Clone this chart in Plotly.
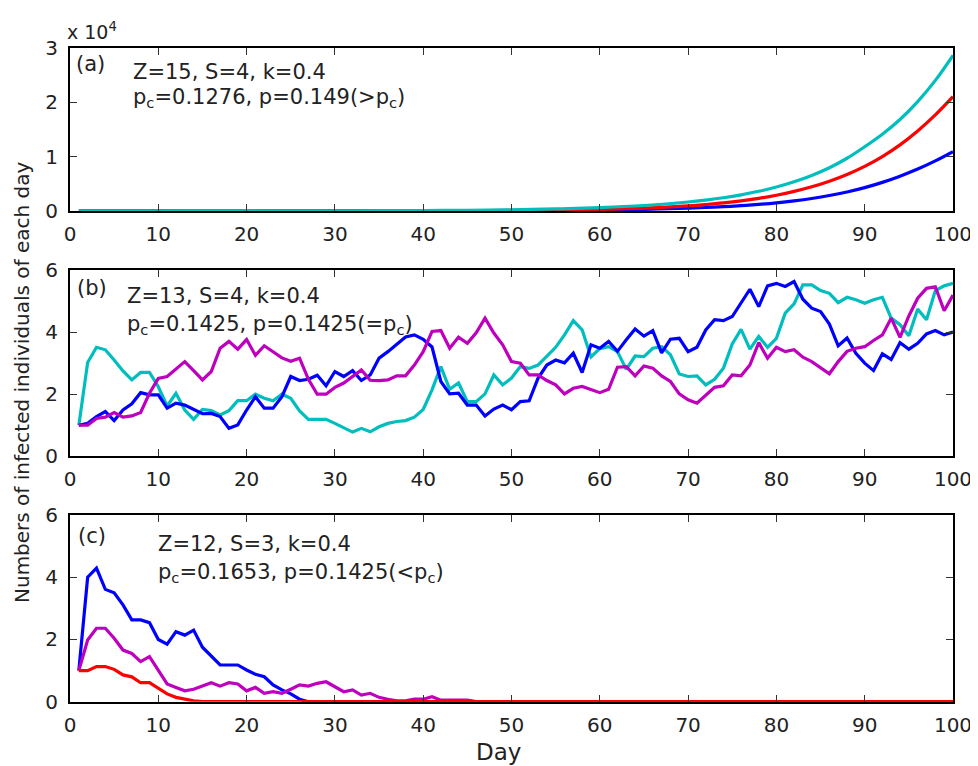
import plotly.graph_objects as go

# ---------------- data ----------------
days = list(range(1, 101))

# Panel (a): exponential growth
days_a = [1, 5, 10, 15, 20, 25, 30, 35, 40, 45, 50, 55, 60, 65,
          70, 72, 74, 76, 78, 80, 82, 84, 86, 88, 90, 92, 94, 96, 98, 100]
a_blue = [1, 1, 1.5, 2, 3, 5, 7, 12, 21, 35, 60, 100, 175, 300,
          520, 640, 790, 980, 1210, 1500, 1860, 2300, 2840, 3500, 4300, 5260, 6400, 7700, 9200, 10900]
a_red = [1, 1.5, 2, 3, 4, 7, 12, 21, 36, 60, 105, 180, 310, 540,
         950, 1190, 1480, 1850, 2320, 2900, 3600, 4450, 5480, 6720, 8200, 10000, 12150, 14700, 17650, 21000]
a_cyan = [1, 2, 4, 7, 12, 20, 32, 53, 86, 140, 230, 380, 620, 1010,
          1650, 2010, 2440, 2970, 3620, 4400, 5360, 6530, 7950, 9690, 11800, 14100, 16800, 20100, 24000, 28600]

# Panel (b)
b_blue = [1.0, 1.06, 1.28, 1.44, 1.15, 1.49, 1.69, 2.05, 1.98, 1.98,
          1.55, 1.71, 1.65, 1.5, 1.37, 1.38, 1.28, 0.9, 1.01, 1.49,
          1.92, 1.55, 1.55, 1.92, 2.57, 2.44, 2.48, 2.61, 2.27, 2.73,
          2.57, 2.76, 2.44, 2.62, 3.16, 3.37, 3.59, 3.84, 3.91, 3.77,
          3.52, 2.41, 2.01, 2.03, 1.65, 1.65, 1.3, 1.52, 1.65, 1.5,
          1.76, 1.79, 2.51, 2.94, 3.1, 3.01, 3.32, 2.7, 3.59, 3.48,
          3.7, 3.38, 3.75, 4.1, 3.87, 4.05, 3.33, 3.77, 3.8, 3.37,
          3.51, 4.07, 4.4, 4.37, 4.5, 4.95, 5.38, 4.82, 5.49, 5.57,
          5.47, 5.63, 5.06, 4.77, 4.66, 4.26, 3.56, 3.81, 3.32, 3.0,
          2.76, 3.3, 3.12, 3.66, 3.45, 3.64, 3.94, 4.05, 3.91, 4.0]
b_magenta = [1.0, 1.0, 1.22, 1.26, 1.41, 1.26, 1.3, 1.41, 2.03, 2.51,
             2.57, 2.8, 3.05, 2.76, 2.46, 2.73, 3.48, 3.7, 3.45, 3.76,
             3.25, 3.56, 3.37, 3.17, 3.06, 3.16, 2.48, 2.0, 2.0, 2.22,
             2.36, 2.58, 2.78, 2.45, 2.44, 2.46, 2.59, 2.59, 2.94, 3.37,
             4.02, 4.05, 3.48, 3.84, 3.64, 3.98, 4.45, 3.97, 3.59, 3.05,
             3.0, 2.62, 2.62, 2.44, 2.3, 2.01, 2.19, 2.25, 2.14, 2.05,
             2.16, 2.87, 2.89, 2.59, 2.91, 2.84, 2.59, 2.41, 2.01, 1.82,
             1.71, 1.98, 2.22, 2.27, 2.62, 2.59, 2.94, 3.66, 3.16, 3.51,
             3.37, 3.43, 3.19, 3.05, 2.84, 2.66, 3.05, 3.38, 3.48, 3.53,
             3.73, 3.91, 4.45, 3.83, 4.52, 5.09, 5.41, 5.46, 4.69, 5.19]
b_cyan = [1.0, 3.02, 3.51, 3.43, 3.1, 2.75, 2.46, 2.7, 2.7, 2.24,
          1.62, 2.03, 1.49, 1.19, 1.51, 1.47, 1.33, 1.47, 1.79, 1.79,
          2.0, 1.87, 1.79, 2.0, 1.87, 1.46, 1.19, 1.19, 1.19, 1.06,
          0.92, 0.78, 0.9, 0.79, 0.95, 1.06, 1.12, 1.15, 1.26, 1.51,
          2.14, 2.89, 2.16, 2.36, 1.76, 1.76, 2.01, 2.62, 2.3, 2.52,
          2.89, 2.83, 2.94, 3.23, 3.51, 3.91, 4.37, 4.07, 3.2, 3.47,
          3.53, 3.37, 2.8, 3.23, 3.21, 3.48, 3.53, 3.27, 2.65, 2.57,
          2.59, 2.3, 2.48, 2.84, 3.62, 4.09, 3.45, 3.86, 3.51, 3.8,
          4.61, 4.91, 5.52, 5.52, 5.34, 5.25, 4.95, 5.12, 5.04, 4.93,
          5.04, 5.12, 4.45, 4.24, 3.88, 4.74, 4.4, 5.34, 5.49, 5.57]

# Panel (c)
c_blue = [1.0, 4.0, 4.29, 3.61, 3.5, 3.11, 2.63, 2.63, 2.54, 2.0,
          1.85, 2.25, 2.14, 2.3, 1.75, 1.47, 1.18, 1.18, 1.18, 1.02,
          0.88, 0.8, 0.54, 0.38, 0.25, 0.08, 0, 0, 0, 0,
          0, 0, 0, 0, 0, 0, 0, 0, 0, 0,
          0, 0, 0, 0, 0, 0, 0, 0, 0, 0,
          0, 0, 0, 0, 0, 0, 0, 0, 0, 0,
          0, 0, 0, 0, 0, 0, 0, 0, 0, 0,
          0, 0, 0, 0, 0, 0, 0, 0, 0, 0,
          0, 0, 0, 0, 0, 0, 0, 0, 0, 0,
          0, 0, 0, 0, 0, 0, 0, 0, 0, 0]
c_magenta = [1.0, 1.98, 2.36, 2.36, 2.04, 1.66, 1.55, 1.29, 1.45, 1.02,
             0.57, 0.46, 0.35, 0.4, 0.5, 0.61, 0.5, 0.61, 0.57, 0.35,
             0.46, 0.27, 0.32, 0.27, 0.4, 0.54, 0.5, 0.59, 0.64, 0.48,
             0.32, 0.38, 0.21, 0.27, 0.14, 0.08, 0.03, 0.03, 0.08, 0.08,
             0.16, 0.05, 0.05, 0.05, 0.05, 0, 0, 0, 0, 0,
             0, 0, 0, 0, 0, 0, 0, 0, 0, 0,
             0, 0, 0, 0, 0, 0, 0, 0, 0, 0,
             0, 0, 0, 0, 0, 0, 0, 0, 0, 0,
             0, 0, 0, 0, 0, 0, 0, 0, 0, 0,
             0, 0, 0, 0, 0, 0, 0, 0, 0, 0]
c_red = [1.0, 1.0, 1.13, 1.13, 1.04, 0.86, 0.8, 0.61, 0.61, 0.43,
         0.25, 0.14, 0.08, 0.03, 0, 0, 0, 0, 0, 0,
         0, 0, 0, 0, 0, 0, 0, 0, 0, 0,
         0, 0, 0, 0, 0, 0, 0, 0, 0, 0,
         0, 0, 0, 0, 0, 0, 0, 0, 0, 0,
         0, 0, 0, 0, 0, 0, 0, 0, 0, 0,
         0, 0, 0, 0, 0, 0, 0, 0, 0, 0,
         0, 0, 0, 0, 0, 0, 0, 0, 0, 0,
         0, 0, 0, 0, 0, 0, 0, 0, 0, 0,
         0, 0, 0, 0, 0, 0, 0, 0, 0, 0]

x_ticks = [0, 10, 20, 30, 40, 50, 60, 70, 80, 90, 100]
a_yticks = [0, 10000, 20000, 30000]
a_yticklabels = ["0", "1", "2", "3"]
bc_yticks = [0, 2, 4, 6]

# ---------------- layout helpers ----------------
OFF = 8                      # page body margin of the html file
W, H = 978 - OFF, 766 - OFF  # figure size so the page fits the window
X0, X1 = 70, 953             # page x of day 0 / day 100
L, R, T, B = X0 - OFF, (OFF + W) - X1, 0, 0
FONT = "DejaVu Sans, Verdana, sans-serif"
TXT = "#222222"

BLUE = "rgb(0,0,255)"
RED = "rgb(255,0,0)"
CYAN = "rgb(0,190,190)"
MAGENTA = "rgb(190,0,190)"


def px(x):
    """page x -> paper fraction"""
    return (x - OFF - L) / (W - L - R)


def py(y):
    """page y -> paper fraction"""
    return 1 - (y - OFF) / H


fig = go.Figure()
LW = 3.2

# panel (a)
fig.add_trace(go.Scatter(x=days_a, y=a_blue, mode="lines", line=dict(color=BLUE, width=LW, shape="spline"), xaxis="x", yaxis="y"))
fig.add_trace(go.Scatter(x=days_a, y=a_red, mode="lines", line=dict(color=RED, width=LW, shape="spline"), xaxis="x", yaxis="y"))
fig.add_trace(go.Scatter(x=days_a, y=a_cyan, mode="lines", line=dict(color=CYAN, width=LW, shape="spline"), xaxis="x", yaxis="y"))

# panel (b)
fig.add_trace(go.Scatter(x=days, y=b_cyan, mode="lines", line=dict(color=CYAN, width=LW), xaxis="x2", yaxis="y2"))
fig.add_trace(go.Scatter(x=days, y=b_blue, mode="lines", line=dict(color=BLUE, width=LW), xaxis="x2", yaxis="y2"))
fig.add_trace(go.Scatter(x=days, y=b_magenta, mode="lines", line=dict(color=MAGENTA, width=LW), xaxis="x2", yaxis="y2"))

# panel (c)
fig.add_trace(go.Scatter(x=days, y=c_blue, mode="lines", line=dict(color=BLUE, width=LW), xaxis="x3", yaxis="y3"))
fig.add_trace(go.Scatter(x=days, y=c_magenta, mode="lines", line=dict(color=MAGENTA, width=LW), xaxis="x3", yaxis="y3"))
fig.add_trace(go.Scatter(x=days, y=c_red, mode="lines", line=dict(color=RED, width=LW), xaxis="x3", yaxis="y3"))

axis_common = dict(
    showline=True, mirror="ticks", linecolor="black", linewidth=2,
    ticks="inside", ticklen=7, tickwidth=1.2, tickcolor="#333",
    showgrid=False, zeroline=False, automargin=False,
    tickfont=dict(family=FONT, size=20, color=TXT),
)

domains = {
    "a": [py(211), py(47.7)],
    "b": [py(456.3), py(270)],
    "c": [py(701.7), py(515)],
}

xcommon = dict(axis_common, range=[0, 100], tickvals=x_ticks, domain=[0, 1], ticklabelstandoff=4)
ycommon = dict(axis_common, ticklabelstandoff=6)
fig.update_layout(
    xaxis=dict(xcommon, anchor="y"),
    yaxis=dict(ycommon, range=[0, 30000], tickvals=a_yticks, ticktext=a_yticklabels,
               domain=domains["a"], anchor="x"),
    xaxis2=dict(xcommon, anchor="y2"),
    yaxis2=dict(ycommon, range=[0, 6], tickvals=bc_yticks, domain=domains["b"], anchor="x2"),
    xaxis3=dict(xcommon, anchor="y3"),
    yaxis3=dict(ycommon, range=[0, 6], tickvals=bc_yticks, domain=domains["c"], anchor="x3"),
)

ann = []


def add_text(x, y, text, size=21, **kw):
    d = dict(x=px(x), y=py(y), xref="paper", yref="paper", text=text, showarrow=False,
             xanchor="left", yanchor="middle", font=dict(family=FONT, size=size, color=TXT))
    d.update(kw)
    ann.append(d)


# panel (a) texts
add_text(74, 64, "(a)")
add_text(131, 72, "Z=15, S=4, k=0.4")
add_text(131, 98, "p<sub>c</sub>=0.1276, p=0.149(&gt;p<sub>c</sub>)")
add_text(65, 31, "x 10<sup>4</sup>", size=19)

# panel (b) texts
add_text(75, 288, "(b)")
add_text(125, 296, "Z=13, S=4, k=0.4")
add_text(125, 325, "p<sub>c</sub>=0.1425, p=0.1425(=p<sub>c</sub>)")

# panel (c) texts
add_text(76, 536, "(c)")
add_text(156, 544, "Z=12, S=3, k=0.4")
add_text(156, 573, "p<sub>c</sub>=0.1653, p=0.1425(&lt;p<sub>c</sub>)")

# axis titles
ann.append(dict(x=px(22), y=py(382), xref="paper", yref="paper", text="Numbers of infected individuals of each day",
                showarrow=False, textangle=-90, xanchor="center", yanchor="middle",
                font=dict(family=FONT, size=20, color=TXT)))
ann.append(dict(x=px(498), y=py(752), xref="paper", yref="paper", text="Day",
                showarrow=False, xanchor="center", yanchor="middle",
                font=dict(family=FONT, size=23, color=TXT)))

fig.update_layout(
    width=W, height=H,
    margin=dict(l=L, r=R, t=T, b=B, autoexpand=False),
    paper_bgcolor="white", plot_bgcolor="white",
    showlegend=False,
    annotations=ann,
    font=dict(family=FONT, color=TXT),
)

fig.write_html("out.html")
